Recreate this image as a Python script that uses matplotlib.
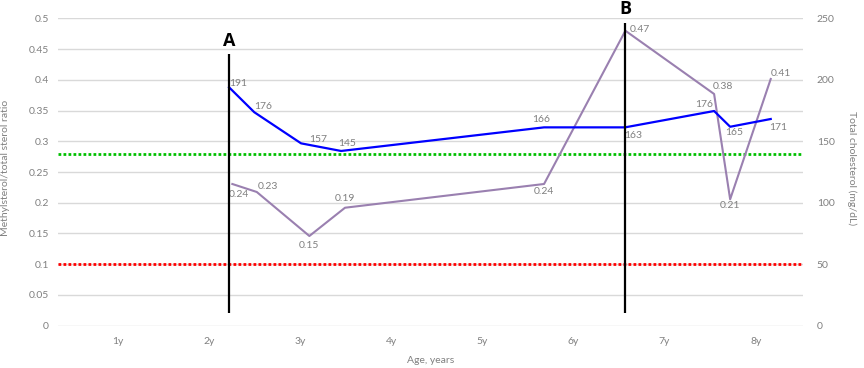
import matplotlib
matplotlib.use("Agg")
import matplotlib.pyplot as plt

# ---------------- data ----------------
year_ticks = [1, 2, 3, 4, 5, 6, 7, 8]
year_labels = ["1y", "2y", "3y", "4y", "5y", "6y", "7y", "8y"]

chol_age = [2.223, 2.500, 3.013, 3.452, 5.678, 6.566, 7.543, 7.719, 8.164]
chol_value = [193.9, 173.6, 148.3, 142.1, 161.3, 161.3, 174.6, 161.8, 168.1]
chol_labels = ["191", "176", "157", "145", "166", "163", "176", "165", "171"]

ratio_age = [2.259, 2.527, 3.104, 3.495, 5.678, 6.570, 7.543, 7.719, 8.164]
ratio_value = [0.2305, 0.2175, 0.1459, 0.1919, 0.2305, 0.4798, 0.3769, 0.2056, 0.4013]
ratio_labels = ["0.24", "0.23", "0.15", "0.19", "0.24", "0.47", "0.38", "0.21", "0.41"]

event_names = ["A", "B"]
event_age = [2.223, 6.566]
event_top = [0.4414, 0.4928]
event_bottom = [0.020, 0.020]

ref_upper = 0.28
ref_lower = 0.10

left_ticks = [0, 0.05, 0.1, 0.15, 0.2, 0.25, 0.3, 0.35, 0.4, 0.45, 0.5]
left_tick_labels = ["0", "0.05", "0.1", "0.15", "0.2", "0.25", "0.3", "0.35", "0.4", "0.45", "0.5"]
right_ticks = [0, 50, 100, 150, 200, 250]

# ---------------- style ----------------
plt.rcParams['font.family'] = ['Lato', 'DejaVu Sans']
GREY = '#808080'
GRID = '#d9d9d9'
FS = 7.5

# label offsets in pixels (dx right, dy down)
chol_off = [(9, -4), (9, -5.6), (16.7, -4), (5.7, -7.7), (-3.3, -8),
            (8.3, 7.7), (-10, -6.7), (4.3, 5.7), (7.7, 8.3)]
ratio_off = [(6.7, 10.3), (10.7, -5.3), (0, 9), (0, -9.3), (0, 7.7),
             (14.7, -1.7), (8.7, -7.3), (0, 6.3), (10, -5.7)]
PX = 0.72

fig = plt.figure(figsize=(8.64, 3.68), dpi=100)
ax = fig.add_axes([58 / 864, 1 - 325.7 / 368, 745 / 864, 307.4 / 368])
ax2 = ax.twinx()

ax.set_xlim(0.347, 8.518)
ax.set_ylim(0, 0.5)
ax2.set_ylim(0, 250)

for a in (ax, ax2):
    for s in a.spines.values():
        s.set_visible(False)

ax.set_yticks(left_ticks)
ax.set_yticklabels(left_tick_labels)
ax.yaxis.grid(True, color=GRID, linewidth=1.0)
ax.set_axisbelow(True)
ax.set_xticks(year_ticks)
ax.set_xticklabels(year_labels)
ax2.set_yticks(right_ticks)

ax.tick_params(axis='y', length=0, pad=6.5, labelsize=FS, labelcolor=GREY)
ax.tick_params(axis='x', length=0, pad=8.0, labelsize=FS, labelcolor=GREY)
ax2.tick_params(axis='y', length=0, pad=9.9, labelsize=FS, labelcolor=GREY)

# reference lines
ax.axhline(ref_upper, color='#00c000', linewidth=2.0, linestyle=(0, (1, 0.8)), zorder=2)
ax.axhline(ref_lower, color='#ff0000', linewidth=2.0, linestyle=(0, (1, 0.8)), zorder=2)

# series
ax.plot(ratio_age, ratio_value, color='#9a80b0', linewidth=1.5, zorder=3)
ax2.plot(chol_age, chol_value, color='#0000ff', linewidth=1.6, zorder=3)

for x, y, t, (dx, dy) in zip(ratio_age, ratio_value, ratio_labels, ratio_off):
    ax.annotate(t, (x, y), xytext=(dx * PX, -dy * PX), textcoords='offset points',
                ha='center', va='center', fontsize=FS, color=GREY)
for x, y, t, (dx, dy) in zip(chol_age, chol_value, chol_labels, chol_off):
    ax2.annotate(t, (x, y), xytext=(dx * PX, -dy * PX), textcoords='offset points',
                 ha='center', va='center', fontsize=FS, color=GREY)

# event lines (drawn on the left-axis scale, on top)
ylim2 = ax2.get_ylim()[1] / ax.get_ylim()[1]
for name, x, top, bot in zip(event_names, event_age, event_top, event_bottom):
    ax2.vlines(x, bot * ylim2, top * ylim2, color='black', linewidth=1.6, zorder=5)
    ax2.annotate(name, (x, top * ylim2), xytext=(0, 13.5 * PX), textcoords='offset points',
                 ha='center', va='center', fontsize=13, fontweight='bold',
                 family=['Open Sans', 'DejaVu Sans'], color='black')

ax.set_xlabel("Age, years", fontsize=FS, color=GREY)
ax.xaxis.set_label_coords(0.5, -0.0986)
ax.set_ylabel("Methylsterol/total sterol ratio", fontsize=FS, color=GREY)
ax.yaxis.set_label_coords(-0.064, 0.513)
ax2.set_ylabel("Total cholesterol (mg/dL)", fontsize=FS, color=GREY, rotation=270)
ax2.yaxis.set_label_coords(1.072, 0.513)

fig.savefig("out.png", dpi=100)
